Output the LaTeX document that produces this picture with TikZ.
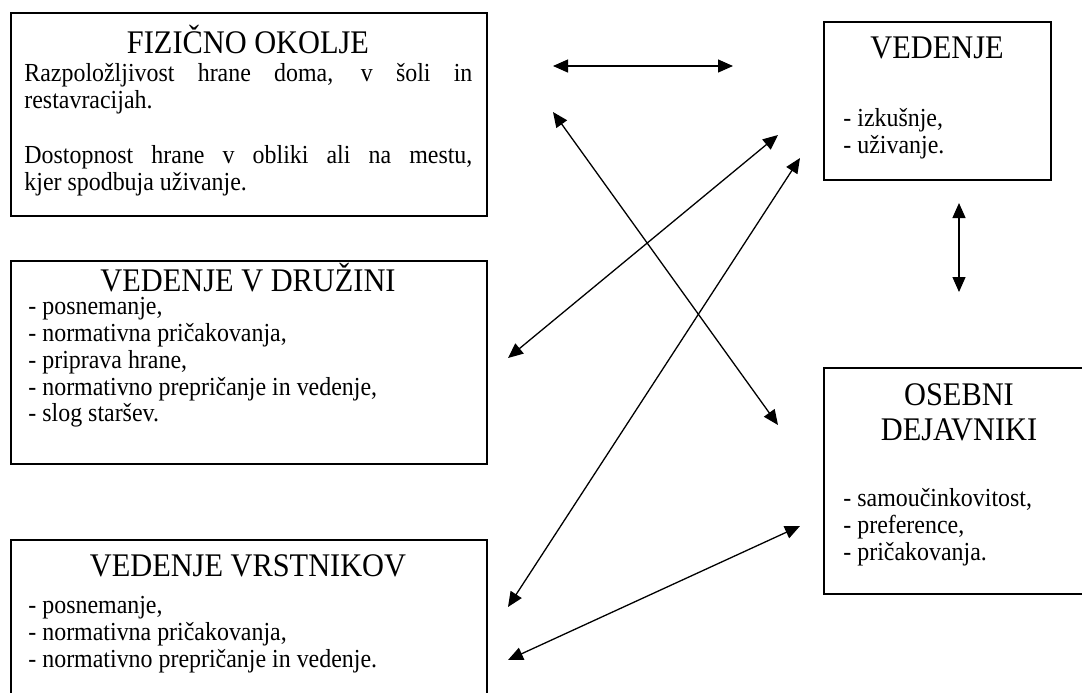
\documentclass[tikz,border=0pt]{standalone}
\usepackage{fontspec}
\setmainfont{Liberation Serif}
\newfontfamily\boxfont[FakeStretch=0.92]{Liberation Serif}
\usetikzlibrary{arrows.meta}
\tikzset{every node/.style={font=\boxfont\fontsize{13}{13.4}\selectfont},line cap=round,line join=round}
\tikzset{
  frame/.style={draw,line width=1pt,inner sep=0pt,anchor=north west},
  head/.style={font=\boxfont\fontsize{16.5}{17.5}\selectfont,inner sep=0pt},
  items/.style={anchor=north west,align=left,inner sep=0pt},
  link/.style={{Triangle[length=7.5pt,width=6.5pt]}-{Triangle[length=7.5pt,width=6.5pt]},line width=0.65pt}
}

\begin{document}
\begin{tikzpicture}[x=0.5pt,y=-0.5pt]
  \path[use as bounding box] (0,0) rectangle (1082,692);
  % boxes
  \node[frame,minimum width=238pt,minimum height=101.5pt] (fiz) at (10,12) {};
  \node[frame,minimum width=113.5pt,minimum height=79pt] (ved) at (823,21) {};
  \node[frame,minimum width=238pt,minimum height=101.5pt] (druz) at (10,260) {};
  \node[frame,minimum width=238pt,minimum height=85pt] (vrst) at (10,539) {};
  \node[frame,minimum width=136pt,minimum height=113pt] (oseb) at (823,367) {};
  % titles
  \node[head] (fizT) at (248,39) {FIZIČNO OKOLJE};
  \node[head] (vedT) at (937,48) {VEDENJE};
  \node[head] (druzT) at (248,278) {VEDENJE V DRUŽINI};
  \node[head] (vrstT) at (248,566) {VEDENJE VRSTNIKOV};
  \node[head,align=center] (osebT) at (959,412) {OSEBNI\\DEJAVNIKI};
  % texts
  \node[items,text width=224pt,align=justify] (fizA) at (24,63)
    {Razpoložljivost hrane doma, v šoli in\linebreak restavracijah.};
  \node[items,text width=224pt,align=justify] (fizB) at (24,145)
    {Dostopnost hrane v obliki ali na mestu,\linebreak kjer spodbuja uživanje.};
  \node[items] (vedL) at (843,108) {- izkušnje,\\- uživanje.};
  \node[items] (druzL) at (28,297)
    {- posnemanje,\\- normativna pričakovanja,\\- priprava hrane,\\- normativno prepričanje in vedenje,\\- slog staršev.};
  \node[items] (vrstL) at (28,596)
    {- posnemanje,\\- normativna pričakovanja,\\- normativno prepričanje in vedenje.};
  \node[items] (osebL) at (843,488)
    {- samoučinkovitost,\\- preference,\\- pričakovanja.};
  % arrow ends
  \coordinate (a1) at (553,66);   \coordinate (a2) at (733,66);
  \coordinate (b1) at (553,112);  \coordinate (b2) at (778,425);
  \coordinate (c1) at (778,135);  \coordinate (c2) at (508,358);
  \coordinate (d1) at (800,158);  \coordinate (d2) at (508,607);
  \coordinate (e1) at (508,660);  \coordinate (e2) at (800,526);
  \coordinate (f1) at (959,203);  \coordinate (f2) at (959,292);
  \draw[link] (a1) -- (a2);
  \draw[link] (b1) -- (b2);
  \draw[link] (c1) -- (c2);
  \draw[link] (d1) -- (d2);
  \draw[link] (e1) -- (e2);
  \draw[link] (f1) -- (f2);
\end{tikzpicture}
\end{document}
